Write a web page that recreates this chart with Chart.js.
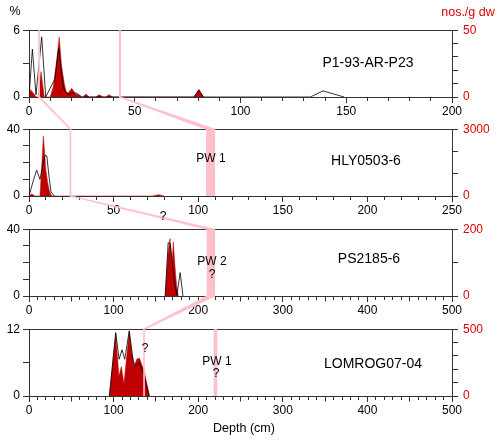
<!DOCTYPE html>
<html>
<head>
<meta charset="utf-8">
<script src="https://cdn.jsdelivr.net/npm/chart.js@4.4.1/dist/chart.umd.min.js"></script>
<style>
  body { margin: 0; background: #fff; }
  #wrap { position: relative; width: 500px; height: 440px; font-family: "Liberation Sans", Arial, sans-serif; }
  #wrap canvas { position: absolute; left: 0; z-index: 1; }
  #ties { z-index: 2 !important; pointer-events: none; }
  .lbl { position: absolute; transform: translate(-50%, -50%); white-space: nowrap; font-size: 12px; color: #000; z-index: 5; line-height: 1; }
</style>
</head>
<body>
<div id="wrap">
  <canvas id="c1"></canvas>
  <canvas id="c2"></canvas>
  <canvas id="c3"></canvas>
  <canvas id="c4"></canvas>
  <canvas id="ties" width="500" height="440" style="top:0;width:500px;height:440px"></canvas>

  <div class="lbl" style="left:15px;top:11px;font-size:12.5px">%</div>
  <div class="lbl" style="left:468px;top:12px;font-size:12.5px;color:#e00000">nos./g dw</div>

  <div class="lbl" style="left:368px;top:62px;font-size:14px">P1-93-AR-P23</div>
  <div class="lbl" style="left:366px;top:160px;font-size:14px">HLY0503-6</div>
  <div class="lbl" style="left:369px;top:258px;font-size:14px">PS2185-6</div>
  <div class="lbl" style="left:373px;top:363px;font-size:14px">LOMROG07-04</div>

  <div class="lbl" style="left:211px;top:158px">PW 1</div>
  <div class="lbl" style="left:163px;top:216px">?</div>
  <div class="lbl" style="left:212px;top:261px">PW 2</div>
  <div class="lbl" style="left:212px;top:274px">?</div>
  <div class="lbl" style="left:145px;top:348px">?</div>
  <div class="lbl" style="left:217px;top:361px">PW 1</div>
  <div class="lbl" style="left:216px;top:373px">?</div>

  <div class="lbl" style="left:244px;top:428px;font-size:12.5px">Depth (cm)</div>
</div>

<script>
// P1-93-AR-P23: black line = %, red fill = nos./g dw
const p1Depth = [0, 1.6, 3.3, 6, 7.9, 12.3, 14, 16.2, 17, 18.6, 20, 22.5, 25, 78, 80.3, 82.5, 133, 139, 149];
const p1Pct = [0, 4.3, 0.2, 5.4, 0, 1.65, 4.4, 0.9, 0.5, 0.2, 0.35, 0.35, 0, 0, 0.6, 0, 0, 0.55, 0];
const p1ConcDepth = [0, 0.8, 3.4, 4.4, 5.7, 7.2, 10, 11.5, 13.1, 14.3, 15.4, 16.7, 17.6, 18.5, 20.2, 22, 24, 25, 25.5, 26.9, 28.5, 31.5, 33.2, 35, 36.3, 37.8, 39.5, 78, 80.3, 82.5];
const p1Conc = [0, 5.5, 0, 0, 19, 0, 0, 7.7, 28, 45, 23, 10, 4, 3, 6.5, 2.5, 1, 0, 0, 2.2, 0, 0, 1.7, 0, 0, 1.7, 0, 0, 5.8, 0];

// HLY0503-6
const p2Depth = [0, 2.5, 4.5, 6.5, 9.5, 10.5, 11.8, 13, 15];
const p2Pct = [0, 9, 15.5, 10, 24.5, 24, 12, 2.5, 0];
const p2ConcDepth = [0, 1.6, 3.5, 6.5, 7.5, 8.5, 9, 9.9, 11, 12, 13, 14, 73, 76.5, 80];
const p2Conc = [0, 90, 0, 0, 1340, 2700, 2200, 1200, 620, 260, 40, 0, 0, 60, 0];

// PS2185-6
const p3Depth = [161, 164.5, 167, 172, 174.8, 178.7, 182];
const p3Pct = [0, 32, 31, 8, 0.5, 14, 0];
const p3ConcDepth = [161, 164, 166.7, 169, 170.6, 172.5, 174.5, 176.5];
const p3Conc = [0, 120, 172, 90, 162, 90, 30, 0];

// LOMROG07-04
const p4Depth = [95, 102.5, 106.5, 110, 113.2, 118.5, 123.2, 126.4, 130.3, 134.3, 139, 142];
const p4Pct = [0, 11.4, 6.6, 8.3, 6.6, 11.7, 6.2, 5.4, 6, 4.6, 1.9, 0];
const p4ConcDepth = [95, 102.5, 106.3, 109.2, 112.2, 118.5, 121.5, 124.6, 127.3, 130.5, 133.3, 136.5, 139, 142.5];
const p4Conc = [0, 465, 150, 220, 90, 485, 320, 225, 275, 285, 235, 180, 100, 0];

// axes
const xMax = [200, 250, 500, 500];
const xLabelStep = [50, 50, 100, 100];
const leftMax = [6, 40, 40, 12];
const leftStep = [3, 10, 10, 6];
const rightMax = [50, 3000, 200, 500];
const rightStep = [10, 1000, 100, 100];

// pink marker bands (depth ranges) and the tie lines between panels
const pinkMarks = [
  [[4.4, 5.2], [42.5, 43.5]],
  [[24, 25], [104.6, 110]],
  [[210, 220]],
  [[135, 137], [218.3, 222.6]]
];
const ties = [[0, 0, 1, 0], [0, 1, 1, 1], [1, 0, 2, 0], [2, 0, 3, 0]];

const plotTops = [28, 127, 227, 327];
const PLOT_H = 69, PAD = 10, XAXIS_H = 22;
const AXIS = '#333', RED = '#c00000', RED_TEXT = '#e00000', PINK = '#ffc0cb';

Chart.defaults.font.family = '"Liberation Sans", Arial, sans-serif';
Chart.defaults.font.size = 12;
Chart.defaults.color = '#000';

const depths = [p1Depth, p2Depth, p3Depth, p4Depth];
const pcts = [p1Pct, p2Pct, p3Pct, p4Pct];
const concDepths = [p1ConcDepth, p2ConcDepth, p3ConcDepth, p4ConcDepth];
const concs = [p1Conc, p2Conc, p3Conc, p4Conc];

const pts = (xs, ys) => xs.map((x, i) => ({ x: x, y: ys[i] }));

function makePanel(k) {
    const canvas = document.getElementById('c' + (k + 1));
    const h = PAD + PLOT_H + XAXIS_H;
    canvas.width = 500; canvas.height = h;
    canvas.style.width = '500px'; canvas.style.height = h + 'px';
    canvas.style.top = (plotTops[k] - PAD) + 'px';

    const endsOnly = (max) => (v) => (v === 0 || v === max) ? v : '';

    return new Chart(canvas, {
        type: 'line',
        data: {
            datasets: [
                { data: pts(depths[k], pcts[k]), yAxisID: 'y', borderColor: '#000', borderWidth: 0.8, pointRadius: 0, fill: false, tension: 0 },
                { data: pts(concDepths[k], concs[k]), yAxisID: 'y2', borderColor: RED, backgroundColor: RED, borderWidth: 0.5, pointRadius: 0, fill: 'origin', tension: 0 }
            ]
        },
        options: {
            responsive: false, animation: false, devicePixelRatio: 1,
            layout: { padding: { top: PAD, left: 0, right: 0, bottom: 0 } },
            plugins: { legend: { display: false }, tooltip: { enabled: false } },
            scales: {
                x: {
                    type: 'linear', position: 'bottom', min: 0, max: xMax[k],
                    afterFit: (s) => { s.height = XAXIS_H; },
                    afterBuildTicks: (s) => {
                        const t = [];
                        for (let v = 0; v <= xMax[k]; v += 10) t.push({ value: v });
                        s.ticks = t;
                    },
                    ticks: {
                        autoSkip: false, maxRotation: 0, padding: 1,
                        callback: (v) => v % xLabelStep[k] === 0 ? v : ''
                    },
                    grid: {
                        drawOnChartArea: false, tickLength: 6, tickColor: AXIS, tickWidth: 1,
                        tickBorderDash: (c) => {
                            const v = c.tick ? c.tick.value : 0;
                            if (v % xLabelStep[k] === 0) return [];
                            if (v % 50 === 0) return [4.5, 20];
                            return [3, 20];
                        }
                    },
                    border: { display: true, color: AXIS, width: 1 }
                },
                xTop: {
                    type: 'linear', position: 'top', min: 0, max: xMax[k],
                    afterFit: (s) => { s.height = 0; },
                    ticks: { display: false },
                    grid: { display: false },
                    border: { display: true, color: AXIS, width: 1 }
                },
                y: {
                    position: 'left', min: 0, max: leftMax[k],
                    afterFit: (s) => { s.width = 29; },
                    ticks: { stepSize: leftStep[k], autoSkip: false, padding: 3, callback: endsOnly(leftMax[k]) },
                    grid: { drawOnChartArea: false, tickLength: 6, tickColor: AXIS },
                    border: { display: true, color: AXIS, width: 1 }
                },
                y2: {
                    position: 'right', min: 0, max: rightMax[k],
                    afterFit: (s) => { s.width = 48; },
                    ticks: { stepSize: rightStep[k], autoSkip: false, padding: 5, color: RED_TEXT, callback: endsOnly(rightMax[k]) },
                    grid: { drawOnChartArea: false, tickLength: 6, tickColor: AXIS },
                    border: { display: true, color: AXIS, width: 1 }
                }
            }
        }
    });
}

const charts = [0, 1, 2, 3].map(makePanel);

// pink bands and ties, placed through each panel's own x scale
const ov = document.getElementById('ties').getContext('2d');
ov.fillStyle = PINK;
ov.strokeStyle = PINK;
function band(k, lo, hi) {
    const ch = charts[k], off = plotTops[k] - PAD;
    return {
        x1: ch.scales.x.getPixelForValue(lo),
        x2: ch.scales.x.getPixelForValue(hi),
        top: off + ch.chartArea.top,
        bottom: off + ch.chartArea.bottom
    };
}
pinkMarks.forEach((marks, k) => marks.forEach(([lo, hi]) => {
    const b = band(k, lo, hi);
    ov.fillRect(b.x1, b.top, b.x2 - b.x1, b.bottom - b.top);
}));
ties.forEach(([ka, ia, kb, ib]) => {
    const a = band(ka, pinkMarks[ka][ia][0], pinkMarks[ka][ia][1]);
    const b = band(kb, pinkMarks[kb][ib][0], pinkMarks[kb][ib][1]);
    ov.beginPath();
    ov.moveTo(a.x1, a.bottom);
    ov.lineTo(a.x2, a.bottom);
    ov.lineTo(b.x2, b.top);
    ov.lineTo(b.x1, b.top);
    ov.closePath();
    ov.fill();
    ov.lineWidth = 0.8;
    ov.stroke();
});
</script>
</body>
</html>
